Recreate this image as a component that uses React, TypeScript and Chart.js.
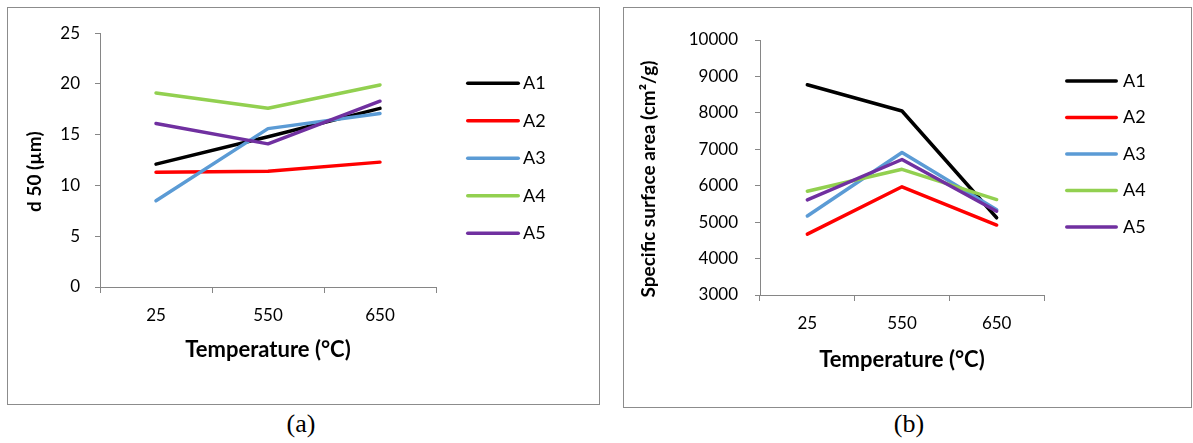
import React, { useEffect, useRef } from "react";
import { Chart, registerables } from "chart.js";

Chart.register(...registerables);

// ---------- data ----------
const categories = ["25", "550", "650"];
const seriesNames = ["A1", "A2", "A3", "A4", "A5"];
const seriesColors = ["#000000", "#FF0000", "#5B9BD5", "#92D050", "#7030A0"];

// (a) d 50 (µm)
const d50A1 = [12.1, 14.8, 17.6];
const d50A2 = [11.3, 11.4, 12.3];
const d50A3 = [8.5, 15.6, 17.1];
const d50A4 = [19.1, 17.6, 19.9];
const d50A5 = [16.1, 14.1, 18.3];

// (b) Specific surface area (cm²/g)
const ssaA1 = [8770, 8050, 5120];
const ssaA2 = [4670, 5970, 4920];
const ssaA3 = [5170, 6910, 5340];
const ssaA4 = [5850, 6450, 5620];
const ssaA5 = [5610, 6720, 5300];

const d50Axis = { min: 0, max: 25, step: 5 };
const ssaAxis = { min: 3000, max: 10000, step: 1000 };

const xTitle = "Temperature (°C)";
const d50Title = "d 50 (µm)";
const ssaTitle = "Specific surface area (cm²/g)";

// ---------- styling ----------
const FONT = "Lato, 'DejaVu Sans', sans-serif";
const AXIS_GREY = "#868686";
const TITLE_SHIFT = "     "; // trailing spaces nudge the rotated title down along the axis

const sideLegend = {
  id: "sideLegend",
  afterDraw(chart: any, _args: any, opts: any) {
    const { ctx, chartArea } = chart;
    ctx.save();
    chart.data.datasets.forEach((ds: any, i: number) => {
      const y = chartArea.top + opts.firstRow + i * opts.rowStep;
      const x0 = chartArea.right + opts.gap;
      ctx.strokeStyle = ds.borderColor;
      ctx.lineWidth = opts.lineWidth;
      ctx.lineCap = "round";
      ctx.beginPath();
      ctx.moveTo(x0, y);
      ctx.lineTo(x0 + opts.lineLength, y);
      ctx.stroke();
      ctx.fillStyle = "#000";
      ctx.font = `${opts.fontSize}px ${FONT}`;
      ctx.textBaseline = "middle";
      ctx.textAlign = "left";
      ctx.fillText(ds.label, x0 + opts.lineLength + opts.textGap, y);
    });
    ctx.restore();
  },
};

type Geom = {
  width: number;
  height: number;
  areaLeft: number;
  areaTop: number;
  areaRight: number;
  areaBottom: number;
  yTitlePad: number;
  xTitlePad: number;
  yTickPad: number;
  legend: any;
};

function LineChart(props: {
  series: number[][];
  axis: { min: number; max: number; step: number };
  yTitle: string;
  geom: Geom;
}) {
  const ref = useRef<HTMLCanvasElement>(null);
  const { series, axis, yTitle, geom } = props;
  useEffect(() => {
    const chart = new Chart(ref.current as HTMLCanvasElement, {
      type: "line",
      data: {
        labels: categories,
        datasets: series.map((vals, i) => ({
          label: seriesNames[i],
          data: vals,
          borderColor: seriesColors[i],
          backgroundColor: seriesColors[i],
          borderWidth: 3.5,
          pointRadius: 0,
          pointHoverRadius: 0,
          tension: 0,
          fill: false,
          borderJoinStyle: "round",
          borderCapStyle: "round",
          order: series.length - i,
        })),
      },
      options: {
        responsive: false,
        animation: false,
        events: [],
        layout: {
          padding: {
            left: 0,
            top: geom.areaTop,
            right: geom.width - geom.areaRight,
            bottom: 0,
          },
        },
        plugins: {
          legend: { display: false },
          tooltip: { enabled: false },
          sideLegend: geom.legend,
        } as any,
        scales: {
          x: {
            type: "category",
            offset: true,
            grid: {
              offset: true,
              drawOnChartArea: false,
              drawTicks: true,
              tickLength: 6,
              color: AXIS_GREY,
              lineWidth: 1,
            },
            border: { display: true, color: AXIS_GREY, width: 1 },
            ticks: {
              color: "#000",
              font: { family: FONT, size: 17 },
              padding: 12,
              maxRotation: 0,
            },
            title: {
              display: true,
              text: xTitle,
              color: "#000",
              font: { family: FONT, size: 22, weight: "bold" },
              padding: { top: 0, bottom: geom.xTitlePad },
            },
            afterFit: (scale: any) => {
              scale.height = geom.height - geom.areaBottom;
            },
          },
          y: {
            type: "linear",
            min: axis.min,
            max: axis.max,
            grid: {
              drawOnChartArea: false,
              drawTicks: true,
              tickLength: 5,
              color: AXIS_GREY,
              lineWidth: 1,
            },
            border: { display: true, color: AXIS_GREY, width: 1 },
            ticks: {
              stepSize: axis.step,
              color: "#000",
              font: { family: FONT, size: 17 },
              padding: geom.yTickPad,
              callback: (v: any) => String(v),
            },
            title: {
              display: true,
              text: yTitle + TITLE_SHIFT,
              color: "#000",
              font: { family: FONT, size: 19, weight: "bold" },
              padding: { top: geom.yTitlePad, bottom: 0 },
            },
            afterFit: (scale: any) => {
              scale.width = geom.areaLeft;
            },
          },
        },
      } as any,
      plugins: [sideLegend],
    });
    return () => chart.destroy();
  }, []);
  return (
    <canvas
      ref={ref}
      width={geom.width}
      height={geom.height}
      style={{ display: "block", width: geom.width, height: geom.height }}
    />
  );
}

const geomA: Geom = {
  width: 591,
  height: 396,
  areaLeft: 92,
  areaTop: 22,
  areaRight: 428,
  areaBottom: 279,
  yTitlePad: 15.6,
  xTitlePad: 41,
  yTickPad: 15,
  legend: { gap: 31.75, firstRow: 50, rowStep: 37.5, lineLength: 50.5, textGap: 4.75, lineWidth: 3.5, fontSize: 18 },
};

const geomB: Geom = {
  width: 567,
  height: 399,
  areaLeft: 136,
  areaTop: 32,
  areaRight: 420,
  areaBottom: 287,
  yTitlePad: 13.1,
  xTitlePad: 34,
  yTickPad: 17,
  legend: { gap: 22.75, firstRow: 41, rowStep: 36.5, lineLength: 49.5, textGap: 6.75, lineWidth: 3.5, fontSize: 18 },
};

const boxStyle = (left: number, top: number, width: number, height: number): React.CSSProperties => ({
  position: "absolute",
  left,
  top,
  width,
  height,
  border: "1px solid #8c8c8c",
  boxSizing: "border-box",
  background: "#fff",
});

const captionStyle = (center: number): React.CSSProperties => ({
  position: "absolute",
  left: center - 50,
  top: 411,
  width: 100,
  textAlign: "center",
  fontFamily: "'Liberation Serif', 'Times New Roman', serif",
  fontSize: 26,
  lineHeight: "26px",
  color: "#000",
});

export default function App() {
  return (
    <div style={{ position: "absolute", left: 0, top: 0, width: 1193, height: 443, background: "#fff" }}>
      <div style={boxStyle(7, 7, 593, 398)}>
        <LineChart series={[d50A1, d50A2, d50A3, d50A4, d50A5]} axis={d50Axis} yTitle={d50Title} geom={geomA} />
      </div>
      <div style={boxStyle(623, 7, 569, 401)}>
        <LineChart series={[ssaA1, ssaA2, ssaA3, ssaA4, ssaA5]} axis={ssaAxis} yTitle={ssaTitle} geom={geomB} />
      </div>
      <div style={captionStyle(301)}>(a)</div>
      <div style={captionStyle(909)}>(b)</div>
    </div>
  );
}
